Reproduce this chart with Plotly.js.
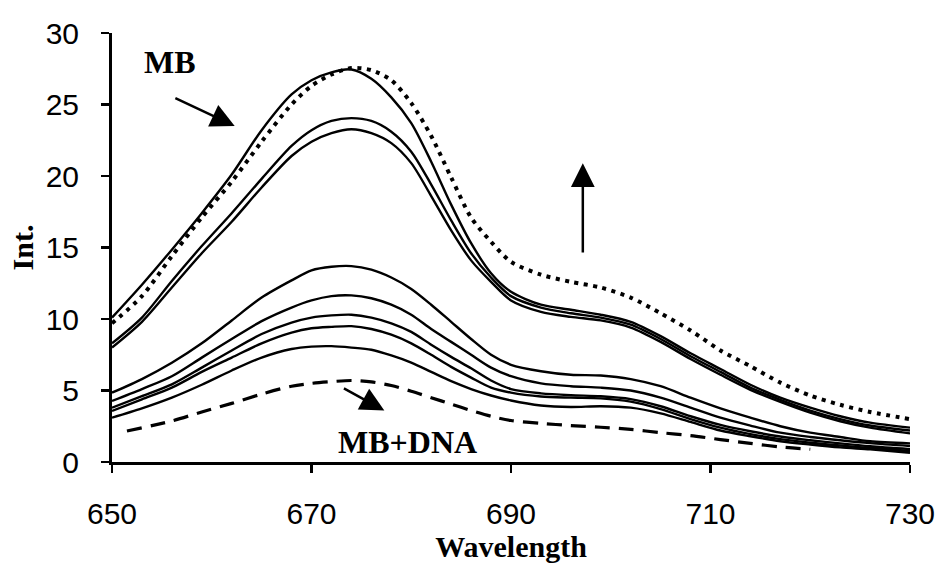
<!DOCTYPE html>
<html><head><meta charset="utf-8">
<script src="https://cdn.plot.ly/plotly-3.0.1.min.js"></script>
<style>html,body{margin:0;padding:0;background:#fff}#chart{width:940px;height:565px}</style>
</head><body><div id="chart"></div>
<script>
const wavelength = [650,653,656,659,662,665,668,670,672,674,676,678,680,682,684,686,688,690,693,696,699,702,705,708,711,714,717,720,723,726,730];

const mbDotted = [9.7,11.6,14.4,17.1,19.6,22.4,25.0,26.3,27.1,27.55,27.4,26.7,25.1,22.8,19.9,17.1,15.4,14.0,13.1,12.6,12.2,11.5,10.4,9.2,7.8,6.7,5.55,4.65,4.0,3.5,3.0];
const curve1 = [10.1,12.4,14.85,17.4,20.1,23.2,25.7,26.7,27.25,27.45,26.8,25.5,23.7,21.0,18.0,15.3,13.2,11.9,11.0,10.65,10.3,9.8,8.8,7.6,6.5,5.4,4.5,3.8,3.2,2.75,2.4];
const curve2 = [8.3,10.1,12.66,15.1,17.4,19.8,22.1,23.2,23.85,24.05,23.85,23.1,21.7,19.4,16.9,14.6,12.9,11.6,10.8,10.4,10.1,9.6,8.6,7.4,6.3,5.2,4.35,3.6,3.0,2.55,2.2];
const curve3 = [8.0,9.8,12.2,14.6,16.8,19.2,21.4,22.4,23.0,23.27,23.0,22.3,20.9,18.6,16.2,14.1,12.6,11.3,10.5,10.15,9.9,9.4,8.4,7.2,6.1,5.05,4.2,3.45,2.85,2.4,2.0];
const curve4 = [4.85,5.8,6.94,8.3,9.9,11.5,12.7,13.4,13.65,13.7,13.45,12.9,12.1,11.0,9.8,8.6,7.5,6.8,6.35,6.1,6.05,5.8,5.3,4.5,3.75,3.1,2.5,2.05,1.75,1.45,1.3];
const curve5 = [4.27,5.1,6.0,7.3,8.6,9.85,10.8,11.3,11.6,11.65,11.45,11.0,10.3,9.3,8.4,7.5,6.6,6.0,5.5,5.3,5.2,5.0,4.5,3.8,3.1,2.55,2.05,1.75,1.52,1.32,1.12];
const curve6 = [3.8,4.6,5.43,6.6,7.8,8.95,9.75,10.1,10.25,10.3,10.1,9.7,9.1,8.2,7.35,6.55,5.7,5.1,4.8,4.67,4.6,4.4,3.9,3.2,2.6,2.15,1.78,1.52,1.3,1.1,0.9];
const curve7 = [3.57,4.38,5.2,6.3,7.3,8.3,9.05,9.35,9.45,9.5,9.3,8.9,8.3,7.5,6.65,5.9,5.2,4.85,4.58,4.5,4.45,4.22,3.7,3.0,2.4,1.95,1.6,1.35,1.15,0.98,0.77];
const curve8 = [3.1,3.75,4.5,5.4,6.4,7.3,7.9,8.07,8.1,8.0,7.85,7.45,6.95,6.3,5.65,5.1,4.65,4.3,3.95,3.85,3.9,3.8,3.4,2.8,2.2,1.8,1.45,1.22,1.02,0.88,0.65];

const dnaWavelength = [651.5,656,659,662,665,668,670,672,674,676,678,680,682,684,686,688,690,693,696,699,702,705,708,711,714,717,720];
const mbDna = [2.17,2.87,3.5,4.1,4.75,5.3,5.5,5.62,5.7,5.6,5.35,4.95,4.5,4.05,3.6,3.2,2.9,2.7,2.55,2.43,2.28,2.05,1.85,1.57,1.3,1.05,0.89];

const xTicks = [650,670,690,710,730];
const yTicks = [0,5,10,15,20,25,30];

const solidLine = {color:'#000', width:2.4, shape:'spline', smoothing:0.8};
const traces = [];
[curve1,curve2,curve3,curve4,curve5,curve6,curve7,curve8].forEach(function(c){
  traces.push({x:wavelength, y:c, mode:'lines', line:solidLine, hoverinfo:'skip'});
});
traces.push({x:wavelength, y:mbDotted, mode:'lines', line:{color:'#000', width:4, dash:'4px,5.5px', shape:'spline', smoothing:0.8}});
traces.push({x:dnaWavelength, y:mbDna, mode:'lines', line:{color:'#000', width:3.2, dash:'15px,9px', shape:'spline', smoothing:0.8}});

const serifBold = {family:'"Liberation Serif","Times New Roman",serif', size:32, color:'#000', weight:'bold'};

const layout = {
  width:940, height:565,
  margin:{l:112, r:30, t:33, b:103},
  paper_bgcolor:'#fff', plot_bgcolor:'#fff',
  showlegend:false,
  font:{family:'"Liberation Sans",Arial,sans-serif', color:'#000'},
  xaxis:{
    range:[650,730], tickvals:xTicks, ticktext:xTicks.map(String),
    showgrid:false, zeroline:false, showline:true, linecolor:'#000', linewidth:3,
    ticks:'outside', ticklen:8, tickwidth:2.5, tickcolor:'#000',
    tickfont:{size:30, family:'"Liberation Sans",Arial,sans-serif', color:'#000'},
    ticklabelstandoff:15,
    title:{text:'<b>Wavelength</b>', font:{family:'"Liberation Serif","Times New Roman",serif', size:30, color:'#000'}, standoff:4}
  },
  yaxis:{
    range:[0,30], tickvals:yTicks, ticktext:yTicks.map(String),
    showgrid:false, zeroline:false, showline:true, linecolor:'#000', linewidth:3,
    ticks:'outside', ticklen:8, tickwidth:2.5, tickcolor:'#000',
    tickfont:{size:30, family:'"Liberation Sans",Arial,sans-serif', color:'#000'},
    ticklabelstandoff:16,
    title:{text:'<b>Int.</b>', font:{family:'"Liberation Serif","Times New Roman",serif', size:30, color:'#000'}, standoff:4}
  },
  annotations:[
    {x:655.8, y:28.0, xref:'x', yref:'y', text:'<b>MB</b>', showarrow:false, font:serifBold},
    {x:662.3, y:23.5, ax:656.2, ay:25.5, xref:'x', yref:'y', axref:'x', ayref:'y', text:'', showarrow:true, arrowhead:2, arrowsize:1.9, arrowwidth:2.5, arrowcolor:'#000'},
    {x:679.6, y:1.4, xref:'x', yref:'y', text:'<b>MB+DNA</b>', showarrow:false, font:serifBold},
    {x:677.3, y:3.6, ax:673.1, ay:5.2, xref:'x', yref:'y', axref:'x', ayref:'y', text:'', showarrow:true, arrowhead:2, arrowsize:1.9, arrowwidth:2.5, arrowcolor:'#000'},
    {x:697.2, y:20.9, ax:697.2, ay:14.55, xref:'x', yref:'y', axref:'x', ayref:'y', text:'', showarrow:true, arrowhead:2, arrowsize:1.9, arrowwidth:2.5, arrowcolor:'#000'}
  ]
};

Plotly.newPlot('chart', traces, layout, {staticPlot:true, displayModeBar:false});
</script>
</body></html>
